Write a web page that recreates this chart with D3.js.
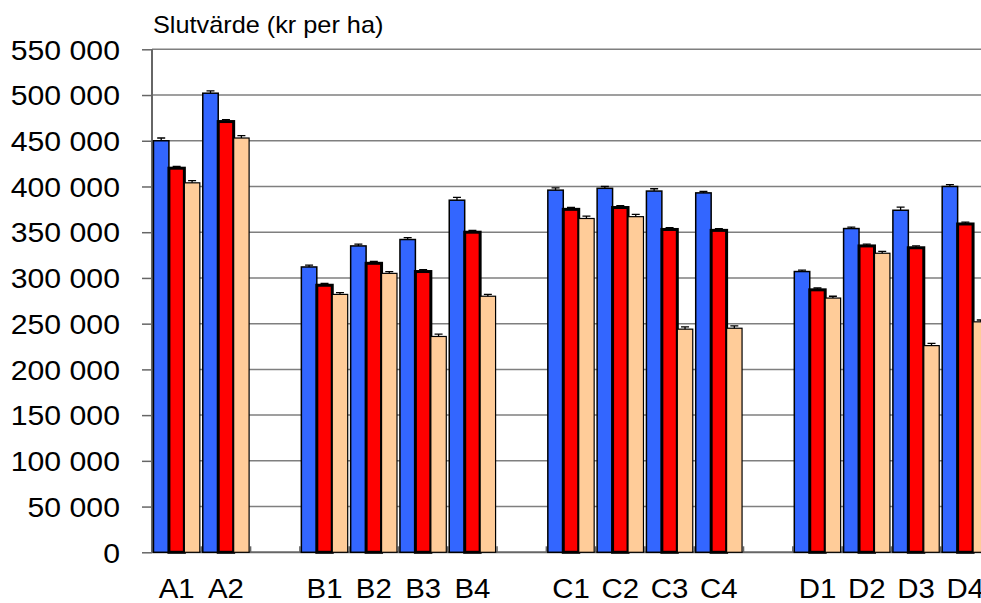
<!DOCTYPE html>
<html>
<head>
<meta charset="utf-8">
<script src="https://cdn.jsdelivr.net/npm/d3@7"></script>
<style>
  body { margin: 0; background: #fff; }
  text { font-family: "Liberation Sans", Arial, sans-serif; fill: #000; }
</style>
</head>
<body>
<div id="chart"></div>
<script>
// categories, with empty slots between the groups
const categories = ["A1", "A2", "", "B1", "B2", "B3", "B4", "", "C1", "C2", "C3", "C4", "", "D1", "D2", "D3", "D4"];
const blueVals  = [450000, 502000, null, 312000, 335000, 342000, 385000, null, 396000, 398000, 395000, 393000, null, 307000, 354000, 374000, 400000];
const redVals   = [420000, 471000, null, 292000, 316000, 307000, 350000, null, 375000, 377000, 353000, 352000, null, 287000, 335000, 333000, 359000];
const peachVals = [404000, 453000, null, 282000, 305000, 236000, 280000, null, 365000, 367000, 244000, 245000, null, 278000, 327000, 226000, 252000];
const blueErr   = [3000, 2500, null, 2000, 2000, 2000, 3000, null, 2500, 2000, 2500, 1500, null, 1500, 1500, 3500, 2000];
const redErr    = [2000, 2000, null, 2000, 2000, 2000, 2000, null, 2000, 2000, 2000, 2000, null, 2000, 2000, 2000, 2000];
const peachErr  = [2500, 2500, null, 2000, 2000, 2500, 2000, null, 2500, 2500, 2500, 2500, null, 2000, 2000, 2500, 2000];
const yTicks = [0, 50000, 100000, 150000, 200000, 250000, 300000, 350000, 400000, 450000, 500000, 550000];
const title = "Slutvärde (kr per ha)";

const svgWidth = 981;
const svgHeight = 603;
const plotLeft = 152;
const plotRight = 990;   // plot runs past the window edge
const plotTop = 49.3;
const plotBottom = 552.3;

const series = [
    {vals: blueVals,  err: blueErr,  fill: "#3366ff", sw: 1.5},
    {vals: redVals,   err: redErr,   fill: "#ff0000", sw: 3},
    {vals: peachVals, err: peachErr, fill: "#ffcc99", sw: 1.2}
];

const svg = d3.select("#chart").append("svg")
    .attr("width", svgWidth)
    .attr("height", svgHeight);

const x = d3.scaleBand()
    .domain(d3.range(categories.length))
    .range([plotLeft, plotRight])
    .paddingInner(0.06)
    .paddingOuter(0.03);

const xs = d3.scaleBand()
    .domain(d3.range(series.length))
    .range([0, x.bandwidth()]);

const y = d3.scaleLinear()
    .domain([0, 550000])
    .range([plotBottom, plotTop]);

// gridlines
svg.append("g")
    .selectAll("line")
    .data(yTicks.filter(d => d > 0))
    .join("line")
    .attr("x1", plotLeft).attr("x2", plotRight)
    .attr("y1", d => y(d)).attr("y2", d => y(d))
    .attr("stroke", "#7f7f7f")
    .attr("stroke-width", 1.5);

// y axis
const yAxis = d3.axisLeft(y)
    .tickValues(yTicks)
    .tickSize(10)
    .tickPadding(22)
    .tickFormat(d => d3.format(",")(d).replace(/,/g, " "));

const gy = svg.append("g")
    .attr("transform", `translate(${plotLeft},0)`)
    .call(yAxis);
gy.select(".domain").remove();
gy.selectAll(".tick line").attr("stroke", "#666").attr("stroke-width", 1.5);
gy.selectAll(".tick text")
    .attr("font-size", 27)
    .attr("dy", "0.36em")
    .attr("x", null)
    .attr("transform", "translate(-32,0) scale(1.12,1)");

svg.append("line")
    .attr("x1", plotLeft).attr("x2", plotLeft)
    .attr("y1", plotTop).attr("y2", plotBottom)
    .attr("stroke", "#666")
    .attr("stroke-width", 2);

// baseline and category ticks
svg.append("line")
    .attr("x1", plotLeft).attr("x2", plotRight)
    .attr("y1", plotBottom).attr("y2", plotBottom)
    .attr("stroke", "#666")
    .attr("stroke-width", 2);

svg.append("g")
    .selectAll("line")
    .data(d3.range(categories.length + 1))
    .join("line")
    .attr("x1", i => plotLeft + i * x.step())
    .attr("x2", i => plotLeft + i * x.step())
    .attr("y1", plotBottom).attr("y2", plotBottom - 6)
    .attr("stroke", "#666")
    .attr("stroke-width", 1.5);

// bars
const shown = categories.map((c, i) => i).filter(i => categories[i] !== "");

const groups = svg.append("g")
    .selectAll("g")
    .data(shown)
    .join("g")
    .attr("transform", i => `translate(${x(i)},0)`);

series.forEach((s, k) => {
    groups.append("rect")
        .attr("x", xs(k))
        .attr("width", xs.bandwidth())
        .attr("y", i => y(s.vals[i]))
        .attr("height", i => y(0) - y(s.vals[i]))
        .attr("fill", s.fill)
        .attr("stroke", "#000")
        .attr("stroke-width", s.sw);

    const cx = xs(k) + xs.bandwidth() / 2;
    groups.append("path")
        .attr("d", i => {
            const y0 = y(s.vals[i]);
            const y1 = y(s.vals[i] + s.err[i]);
            return `M${cx},${y0}V${y1}M${cx - 4},${y1}H${cx + 4}`;
        })
        .attr("fill", "none")
        .attr("stroke", "#000")
        .attr("stroke-width", 1.3);
});

// x labels
svg.append("g")
    .selectAll("text")
    .data(shown)
    .join("text")
    .attr("transform", i => `translate(${x(i) + x.bandwidth() / 2},598) scale(1.05,1)`)
    .attr("text-anchor", "middle")
    .attr("font-size", 28)
    .text(i => categories[i]);

// title
svg.append("text")
    .attr("transform", "translate(153,33) scale(1.1,1)")
    .attr("font-size", 23)
    .text(title);
</script>
</body>
</html>
